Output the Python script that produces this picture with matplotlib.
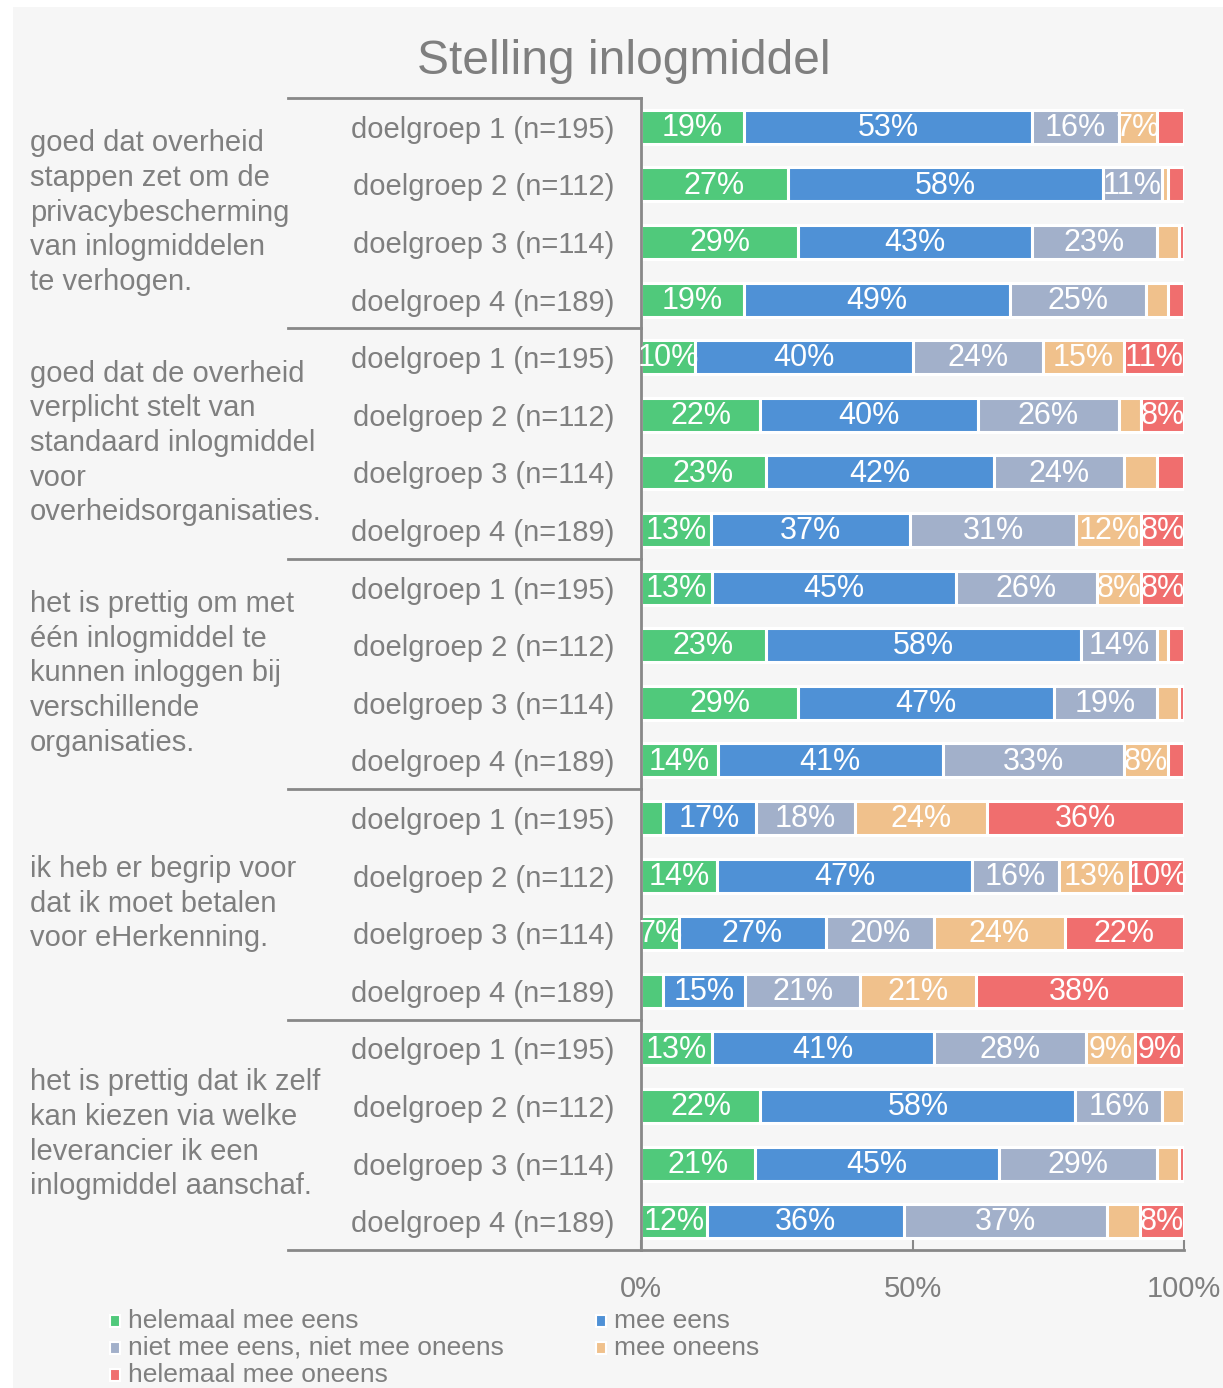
import matplotlib
matplotlib.use("Agg")
import matplotlib.pyplot as plt
import numpy as np
from matplotlib.patches import Rectangle
from matplotlib.lines import Line2D
from matplotlib.transforms import blended_transform_factory

plt.rcParams['font.family'] = ['Liberation Sans', 'DejaVu Sans']

title = "Stelling inlogmiddel"
groups = [
    "goed dat overheid\nstappen zet om de\nprivacybescherming\nvan inlogmiddelen\nte verhogen.",
    "goed dat de overheid\nverplicht stelt van\nstandaard inlogmiddel\nvoor\noverheidsorganisaties.",
    "het is prettig om met\néén inlogmiddel te\nkunnen inloggen bij\nverschillende\norganisaties.",
    "ik heb er begrip voor\ndat ik moet betalen\nvoor eHerkenning.",
    "het is prettig dat ik zelf\nkan kiezen via welke\nleverancier ik een\ninlogmiddel aanschaf.",
]
subgroups = ["doelgroep 1 (n=195)", "doelgroep 2 (n=112)",
             "doelgroep 3 (n=114)", "doelgroep 4 (n=189)"]
series_names = ["helemaal mee eens", "mee eens", "niet mee eens, niet mee oneens",
                "mee oneens", "helemaal mee oneens"]
colors = ["#50C97B", "#4F91D6", "#A2B0CA", "#F0C18C", "#F06E6E"]

helemaal_eens = [19, 27, 29, 19, 10, 22, 23, 13, 13, 23, 29, 14, 4, 14, 7, 4, 13, 22, 21, 12]
eens          = [53, 58, 43, 49, 40, 40, 42, 37, 45, 58, 47, 41, 17, 47, 27, 15, 41, 58, 45, 36]
neutraal      = [16, 11, 23, 25, 24, 26, 24, 31, 26, 14, 19, 33, 18, 16, 20, 21, 28, 16, 29, 37]
oneens        = [7, 1, 4, 4, 15, 4, 6, 12, 8, 2, 4, 8, 24, 13, 24, 21, 9, 4, 4, 6]
helemaal_on   = [5, 3, 1, 3, 11, 8, 5, 8, 8, 3, 1, 3, 36, 10, 22, 38, 9, 0, 1, 8]
xticks = [0, 50, 100]
xticklabels = ["0%", "50%", "100%"]

W, H = 1223, 1388
fig = plt.figure(figsize=(W / 100, H / 100), dpi=100, facecolor="white")
fig.patches.append(Rectangle((13 / W, 0), (W - 13) / W, (H - 7) / H,
                             transform=fig.transFigure, facecolor="#F6F6F6",
                             edgecolor="none", zorder=-10))

ax_l, ax_r, ax_t, ax_b = 641, 1184, 98, 1250
ax = fig.add_axes([ax_l / W, 1 - ax_b / H, (ax_r - ax_l) / W, (ax_b - ax_t) / H])
ax.set_facecolor("none")

data = np.array([helemaal_eens, eens, neutraal, oneens, helemaal_on], dtype=float)
totals = data.sum(axis=0)
norm = data / totals * 100
n = data.shape[1]
y = np.arange(n)
left = np.zeros(n)
for k in range(5):
    bars = ax.barh(y, norm[k], left=left, height=0.59, color=colors[k],
                   edgecolor="white", linewidth=2.2, zorder=2)
    for i, rect in enumerate(bars):
        v = data[k, i]
        if v >= 7:
            t = ax.text(left[i] + norm[k, i] / 2, y[i] + 0.02, f"{int(v)}%",
                        ha="center", va="center", color="white", fontsize=22, zorder=3)
            t.set_clip_path(rect)
    left += norm[k]

ax.set_xlim(0, 100)
ax.set_ylim(n - 0.5, -0.5)
ax.set_yticks(y)
ax.set_yticklabels(subgroups * 5, fontsize=21, color="#7F7F7F")
ax.tick_params(axis="y", length=0, pad=19)
ax.set_xticks(xticks)
ax.set_xticklabels(xticklabels, fontsize=21, color="#7F7F7F")
ax.tick_params(axis="x", direction="in", length=7, width=1.5, color="#888888", pad=18)
for s in ["top", "right"]:
    ax.spines[s].set_visible(False)
for s in ["left", "bottom"]:
    ax.spines[s].set_color("#888888")
    ax.spines[s].set_linewidth(2)

# group separator lines and group labels
tr = blended_transform_factory(fig.transFigure, ax.transData)
for b in [-0.5, 3.5, 7.5, 11.5, 15.5, 19.5]:
    ax.add_line(Line2D([288 / W, 641 / W], [b, b], transform=tr, color="#888888",
                       linewidth=2, clip_on=False))
for g, label in enumerate(groups):
    fig.text(30 / W, g * 4 + 1.5 - 0.01, label, transform=tr, ha="left", va="center",
             fontsize=21, color="#7F7F7F", linespacing=1.3)

fig.text(624 / W, 1 - 62 / H, title, ha="center", va="center", fontsize=34.5, color="#7F7F7F")

# legend
leg_pos = [(115, 1321), (601, 1321), (115, 1348), (601, 1348), (115, 1375)]
for (lx, ly), name, c in zip(leg_pos, series_names, colors):
    fig.patches.append(Rectangle(((lx - 5) / W, 1 - (ly + 6) / H), 10 / W, 12 / H,
                                 transform=fig.transFigure, facecolor=c,
                                 edgecolor="white", linewidth=1.5))
    fig.text((lx + 13) / W, 1 - ly / H, name, ha="left", va="center",
             fontsize=19, color="#7F7F7F")

fig.savefig("out.png", dpi=100, facecolor="white")
